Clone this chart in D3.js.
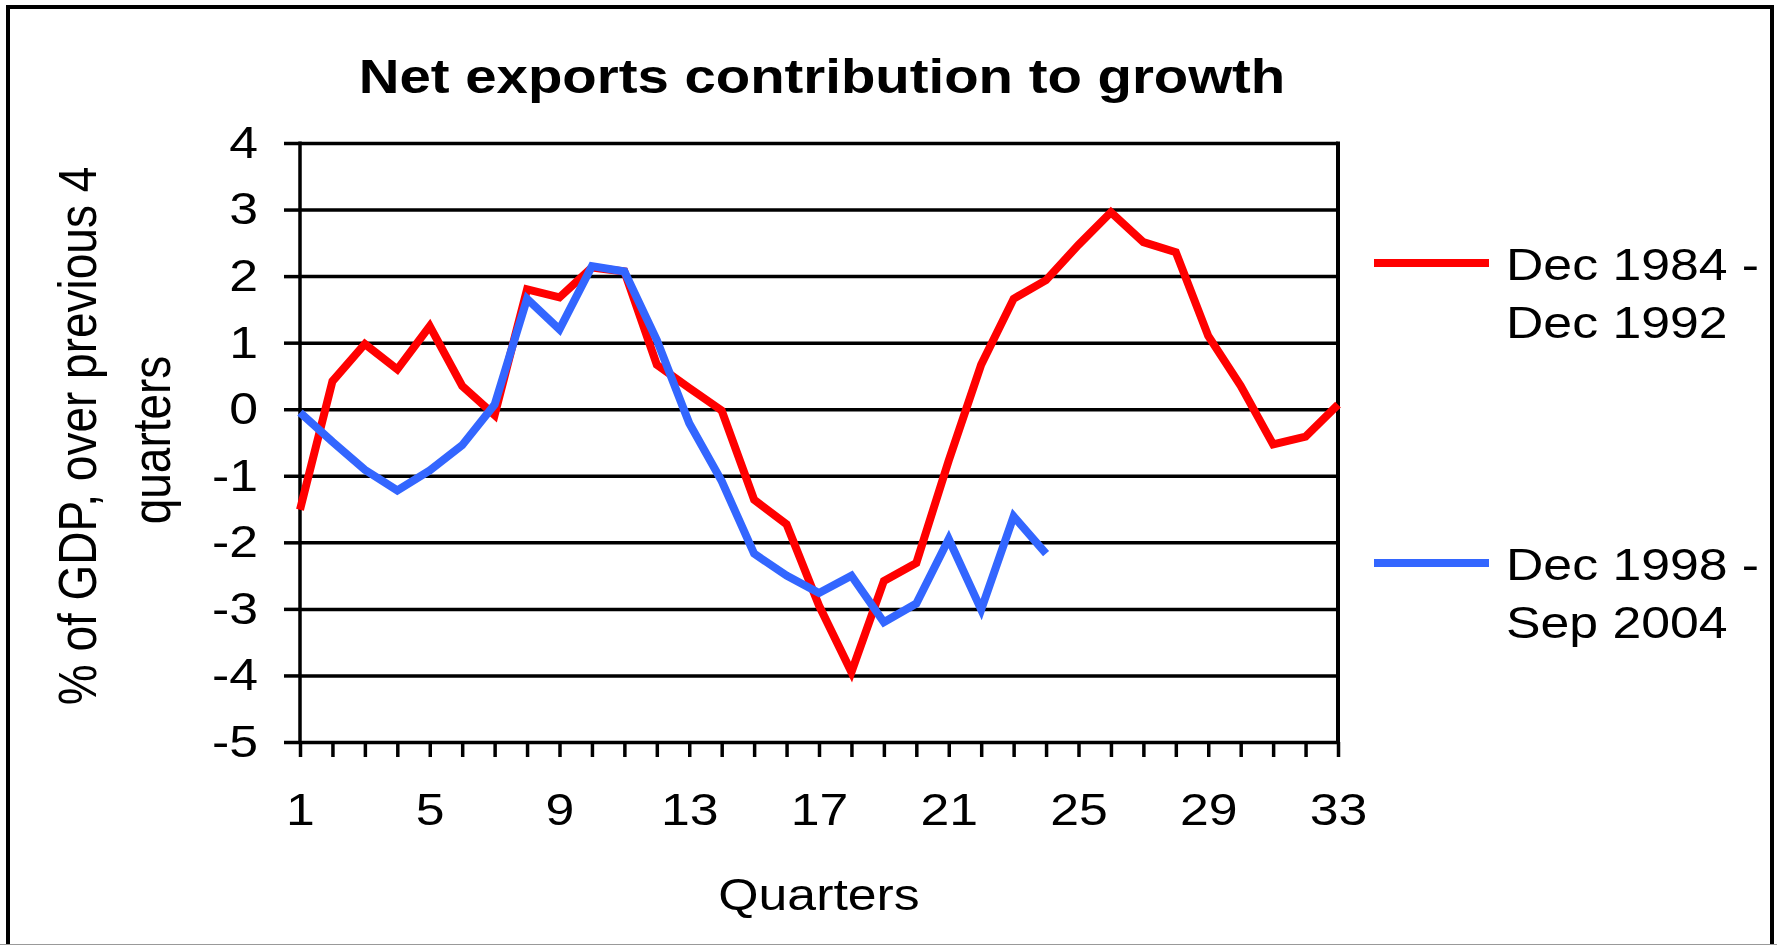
<!DOCTYPE html>
<html>
<head>
<meta charset="utf-8">
<script src="https://cdn.jsdelivr.net/npm/d3@7"></script>
<style>
  body { margin: 0; background: #fff; }
  svg { display: block; }
  text { font-family: "Liberation Sans", Arial, sans-serif; fill: #000; }
</style>
</head>
<body>
<div id="chart"></div>
<script>
// quarters on the x axis
var quarters = [1,2,3,4,5,6,7,8,9,10,11,12,13,14,15,16,17,18,19,20,21,22,23,24,25,26,27,28,29,30,31,32,33];
var labelledQuarters = [1,5,9,13,17,21,25,29,33];
var yTicks = [-5,-4,-3,-2,-1,0,1,2,3,4];

// Dec 1984 - Dec 1992
var series1984 = [-1.51, 0.42, 0.98, 0.60, 1.25, 0.35, -0.09, 1.80, 1.68, 2.13, 2.07, 0.67, 0.32, -0.02,
  -1.36, -1.73, -2.95, -3.95, -2.58, -2.31, -0.77, 0.67, 1.66, 1.94, 2.47, 2.96, 2.51, 2.36, 1.10, 0.35,
  -0.53, -0.41, 0.07];
// Dec 1998 - Sep 2004
var series1998 = [-0.05, -0.49, -0.91, -1.22, -0.92, -0.54, 0.07, 1.66, 1.20, 2.15, 2.07, 1.04, -0.21, -1.08,
  -2.17, -2.50, -2.76, -2.50, -3.20, -2.92, -1.95, -3.01, -1.61, -2.17];

var seriesNames = [["Dec 1984 -", "Dec 1992"], ["Dec 1998 -", "Sep 2004"]];
var seriesColors = ["#ff0000", "#3366ff"];

var width = 1777, height = 945;
var stretch = 1.15; // text in the picture is a bit wide

var svg = d3.select("#chart").append("svg")
  .attr("width", width)
  .attr("height", height);

var x = d3.scaleLinear().domain([1, 33]).range([300, 1338]);
var y = d3.scaleLinear().domain([-5, 4]).range([742, 143]);

// outer frame
svg.append("rect")
  .attr("x", 8).attr("y", 7)
  .attr("width", 1764).attr("height", 960)
  .attr("fill", "none")
  .attr("stroke", "#000")
  .attr("stroke-width", 4);
svg.append("line")
  .attr("x1", 0).attr("x2", width)
  .attr("y1", 944.5).attr("y2", 944.5)
  .attr("stroke", "#999").attr("stroke-width", 1);

// title
svg.append("text")
  .attr("transform", "translate(822,93) scale(" + stretch + ",1)")
  .attr("text-anchor", "middle")
  .style("font-size", "49px")
  .style("font-weight", "bold")
  .text("Net exports contribution to growth");

// horizontal gridlines
svg.append("g")
  .attr("transform", "translate(" + x(1) + ",0)")
  .call(d3.axisLeft(y).tickValues(yTicks).tickSize(-(x(33) - x(1))).tickFormat(""))
  .call(function(g){ g.select(".domain").remove(); })
  .selectAll("line")
  .attr("stroke", "#000")
  .attr("stroke-width", 3.5);

// y axis ticks + labels
var yAxis = svg.append("g")
  .attr("transform", "translate(" + x(1) + ",0)")
  .call(d3.axisLeft(y).tickValues(yTicks).tickSize(16).tickPadding(26)
    .tickFormat(function(d){ return String(d); }));
yAxis.select(".domain").remove();
yAxis.selectAll("line").attr("stroke", "#000").attr("stroke-width", 3.5);
yAxis.selectAll("text")
  .attr("x", -42 / stretch)
  .attr("transform", "scale(" + stretch + ",1)")
  .style("font-size", "45px")
  .style("font-family", "'Liberation Sans', Arial, sans-serif");

// x axis ticks + labels
var xAxis = svg.append("g")
  .attr("transform", "translate(0," + y(-5) + ")")
  .call(d3.axisBottom(x).tickValues(quarters).tickSize(15)
    .tickFormat(function(d){ return labelledQuarters.indexOf(d) >= 0 ? String(d) : ""; }));
xAxis.select(".domain").remove();
xAxis.selectAll("line").attr("stroke", "#000").attr("stroke-width", 3.5);
xAxis.selectAll("text")
  .attr("y", 83)
  .attr("dy", 0)
  .attr("transform", "scale(" + stretch + ",1)")
  .style("font-size", "45px")
  .style("font-family", "'Liberation Sans', Arial, sans-serif");

// plot area left and right edges
svg.append("line")
  .attr("x1", x(1)).attr("x2", x(1)).attr("y1", y(4) - 1.5).attr("y2", y(-5) + 1.5)
  .attr("stroke", "#000").attr("stroke-width", 3.5);
svg.append("line")
  .attr("x1", x(33)).attr("x2", x(33)).attr("y1", y(4) - 1.5).attr("y2", y(-5) + 1.5)
  .attr("stroke", "#000").attr("stroke-width", 4);

// the two lines
var line = d3.line()
  .x(function(d, i){ return x(quarters[i]); })
  .y(function(d){ return y(d); });

[series1984, series1998].forEach(function(s, i){
  svg.append("path")
    .datum(s)
    .attr("fill", "none")
    .attr("stroke", seriesColors[i])
    .attr("stroke-width", 8)
    .attr("stroke-linejoin", "miter")
    .attr("d", line);
});

// axis titles
svg.append("text")
  .attr("transform", "translate(819,910) scale(" + stretch + ",1)")
  .attr("text-anchor", "middle")
  .style("font-size", "45px")
  .text("Quarters");

svg.append("text")
  .attr("transform", "translate(96,436) scale(" + stretch + ",1) rotate(-90)")
  .attr("text-anchor", "middle")
  .style("font-size", "46px")
  .text("% of GDP, over previous 4");
svg.append("text")
  .attr("transform", "translate(170,440) scale(" + stretch + ",1) rotate(-90)")
  .attr("text-anchor", "middle")
  .style("font-size", "46px")
  .text("quarters");

// legend
var legendY = [263, 563];
seriesNames.forEach(function(name, i){
  svg.append("line")
    .attr("x1", 1374).attr("x2", 1489)
    .attr("y1", legendY[i]).attr("y2", legendY[i])
    .attr("stroke", seriesColors[i])
    .attr("stroke-width", 8);
  name.forEach(function(t, j){
    svg.append("text")
      .attr("transform", "translate(1506," + (legendY[i] + 17 + j * 58) + ") scale(" + stretch + ",1)")
      .style("font-size", "45px")
      .text(t);
  });
});
</script>
</body>
</html>
